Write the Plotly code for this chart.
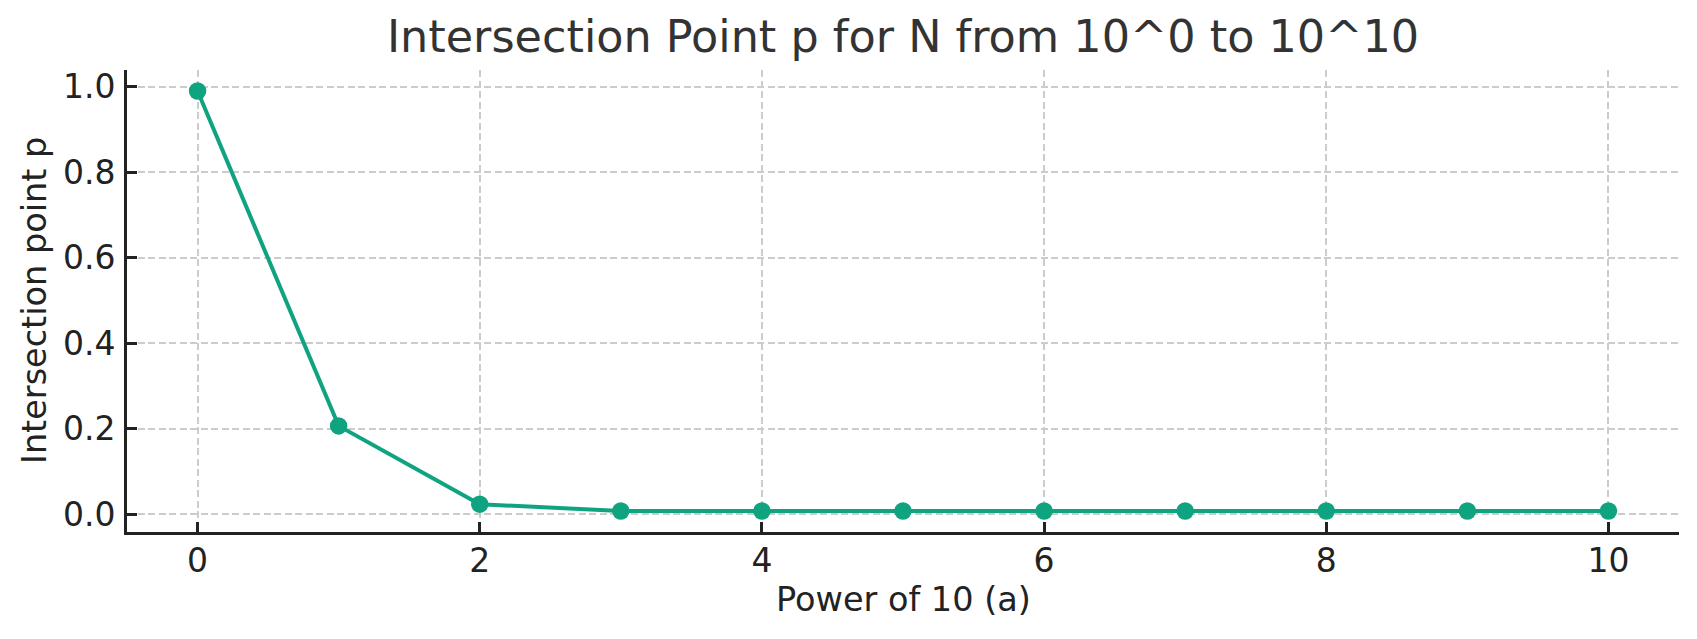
import plotly.graph_objects as go

# Data
powers = [0, 1, 2, 3, 4, 5, 6, 7, 8, 9, 10]
p_values = [0.99, 0.207, 0.024, 0.008, 0.008, 0.008, 0.008, 0.008, 0.008, 0.008, 0.008]
x_ticks = [0, 2, 4, 6, 8, 10]
y_ticks = [0.0, 0.2, 0.4, 0.6, 0.8, 1.0]

title_text = "Intersection Point p for N from 10^0 to 10^10"
x_label = "Power of 10 (a)"
y_label = "Intersection point p"

LINE_COLOR = "#10a37f"
FONT = "DejaVu Sans"
AXIS_COLOR = "#222222"

W, H = 1697, 639
L, R, T, B = 127, 18, 70, 107


def padded(lo, hi, frac=0.05):
    d = (hi - lo) * frac
    return [lo - d, hi + d]


fig = go.Figure()
fig.add_trace(go.Scatter(
    x=powers, y=p_values, mode="lines+markers",
    line=dict(color=LINE_COLOR, width=4),
    marker=dict(color=LINE_COLOR, size=17.5),
    showlegend=False,
))

axis_common = dict(
    showline=True, linewidth=3, linecolor=AXIS_COLOR,
    ticks="inside", ticklen=10, tickwidth=2.5, tickcolor=AXIS_COLOR,
    showgrid=True, gridcolor="#cccccc", gridwidth=1.6, griddash="7px,3.5px",
    zeroline=False,
    tickfont=dict(family=FONT, size=33, color=AXIS_COLOR),
    mirror=False,
)

fig.update_xaxes(
    range=padded(min(powers), max(powers)),
    tickvals=x_ticks, ticktext=[str(v) for v in x_ticks],
    ticklabelstandoff=-3,
    **axis_common,
)
fig.update_yaxes(
    range=padded(min(p_values), max(p_values)),
    tickvals=y_ticks, ticktext=[f"{v:.1f}" for v in y_ticks],
    ticklabelstandoff=2,
    **axis_common,
)

fig.update_layout(
    width=W, height=H,
    margin=dict(l=L, r=R, t=T, b=B, pad=0),
    plot_bgcolor="white", paper_bgcolor="white",
    font=dict(family=FONT, color=AXIS_COLOR),
    title=dict(
        text=title_text, x=(L + (W - R)) / 2 / W, xanchor="center",
        y=1 - 36.5 / H, yanchor="middle", yref="container",
        font=dict(family=FONT, size=44.5, color="#333333"),
    ),
)

plot_h = H - T - B
fig.add_annotation(
    text=x_label, xref="paper", yref="paper",
    x=0.5, y=-(599 - (H - B)) / plot_h, xanchor="center", yanchor="middle",
    showarrow=False, font=dict(family=FONT, size=33.5, color=AXIS_COLOR),
)
fig.add_annotation(
    text=y_label, xref="paper", yref="paper",
    x=-(L - 34) / (W - L - R), y=0.5, xanchor="center", yanchor="middle",
    textangle=-90, showarrow=False,
    font=dict(family=FONT, size=33.5, color=AXIS_COLOR),
)

fig.write_html("out.html", config={"displayModeBar": False},
               post_script="document.body.style.margin='0px';")
